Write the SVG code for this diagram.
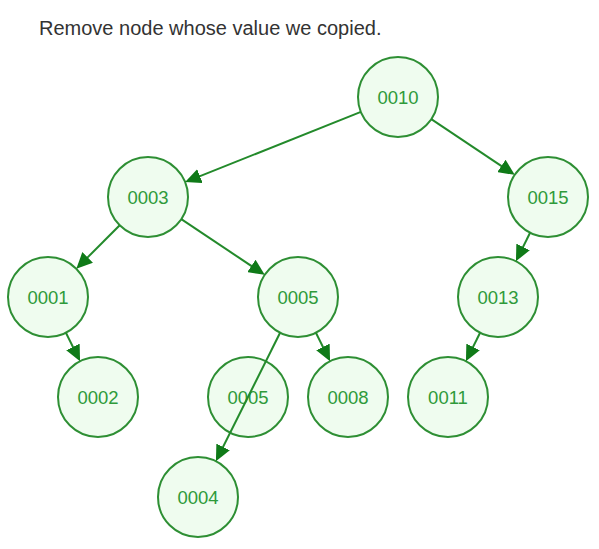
<svg xmlns="http://www.w3.org/2000/svg" width="599" height="549" viewBox="0 0 599 549">
<style>
.node circle{fill:#effcef;stroke:#2e8f34;stroke-width:2}
.node text{font-family:"Liberation Sans",Arial,sans-serif;font-size:18.5px;fill:#2e9a3a;text-anchor:middle}
.edge{stroke:#238a2b;stroke-width:2;fill:none;marker-end:url(#arr)}
.title{font-family:"Liberation Sans",Arial,sans-serif;font-size:20px;fill:#333333}
</style>
<defs>
<marker id="arr" markerUnits="userSpaceOnUse" markerWidth="16" markerHeight="15" refX="6" refY="7.5" orient="auto" viewBox="0 0 16 15">
<path d="M0,0 L16,7.5 L0,15 z" fill="#0f7a18"/>
</marker>
</defs>
<rect width="599" height="549" fill="#ffffff"/>
<text class="title" x="39" y="35">Remove node whose value we copied.</text>
<g id="n0010" class="node"><circle cx="398" cy="97" r="40"/><text x="398" y="103.5">0010</text></g>
<g id="n0003" class="node"><circle cx="148" cy="197" r="40"/><text x="148" y="203.5">0003</text></g>
<g id="n0015" class="node"><circle cx="548" cy="197" r="40"/><text x="548" y="203.5">0015</text></g>
<g id="n0001" class="node"><circle cx="48" cy="297" r="40"/><text x="48" y="303.5">0001</text></g>
<g id="n0005" class="node"><circle cx="298" cy="297" r="40"/><text x="298" y="303.5">0005</text></g>
<g id="n0013" class="node"><circle cx="498" cy="297" r="40"/><text x="498" y="303.5">0013</text></g>
<g id="n0002" class="node"><circle cx="98" cy="397" r="40"/><text x="98" y="403.5">0002</text></g>
<g id="n0005b" class="node"><circle cx="248" cy="397" r="40"/><text x="248" y="403.5">0005</text></g>
<g id="n0008" class="node"><circle cx="348" cy="397" r="40"/><text x="348" y="403.5">0008</text></g>
<g id="n0011" class="node"><circle cx="448" cy="397" r="40"/><text x="448" y="403.5">0011</text></g>
<g id="n0004" class="node"><circle cx="198" cy="497" r="40"/><text x="198" y="503.5">0004</text></g>
<g id="connectors">
<line class="edge" x1="360.9" y1="111.9" x2="194.4" y2="178.4"/>
<line class="edge" x1="431.3" y1="119.2" x2="506.4" y2="169.3"/>
<line class="edge" x1="119.7" y1="225.3" x2="83.4" y2="261.6"/>
<line class="edge" x1="181.3" y1="219.2" x2="256.4" y2="269.3"/>
<line class="edge" x1="530.1" y1="232.8" x2="520.4" y2="252.3"/>
<line class="edge" x1="65.9" y1="332.8" x2="75.6" y2="352.3"/>
<line class="edge" x1="280.1" y1="332.8" x2="220.4" y2="452.3"/>
<line class="edge" x1="315.9" y1="332.8" x2="325.6" y2="352.3"/>
<line class="edge" x1="480.1" y1="332.8" x2="470.4" y2="352.3"/>
</g>
</svg>
